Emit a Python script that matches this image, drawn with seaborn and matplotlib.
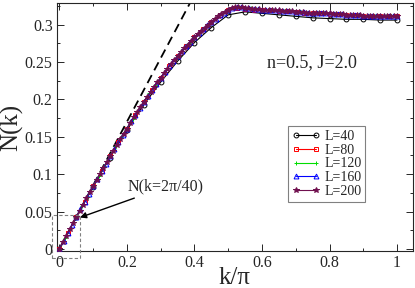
import numpy as np
import pandas as pd
import matplotlib
matplotlib.use("Agg")
import matplotlib.pyplot as plt
import seaborn as sns
from matplotlib.patches import Rectangle
from matplotlib.ticker import MultipleLocator

# ============================ data ============================
sizes = [40, 80, 120, 160, 200]

n_L40 = [0.000, 0.042, 0.083, 0.122, 0.159, 0.193, 0.223, 0.251, 0.276, 0.296,
         0.313, 0.317, 0.315, 0.313, 0.311, 0.309, 0.308, 0.307, 0.307, 0.306,
         0.306]

n_L80 = [0.000, 0.021, 0.043, 0.063, 0.084, 0.104, 0.124, 0.143, 0.161, 0.179,
         0.197, 0.213, 0.229, 0.244, 0.258, 0.271, 0.283, 0.294, 0.304, 0.313,
         0.320, 0.322, 0.321, 0.320, 0.319, 0.319, 0.318, 0.318, 0.317, 0.316,
         0.316, 0.315, 0.314, 0.314, 0.313, 0.313, 0.312, 0.312, 0.311, 0.311,
         0.311]

n_L120 = [0.000, 0.014, 0.028, 0.043, 0.057, 0.070, 0.084, 0.097, 0.111, 0.124,
          0.137, 0.149, 0.161, 0.174, 0.185, 0.197, 0.208, 0.219, 0.229, 0.239,
          0.249, 0.258, 0.267, 0.275, 0.283, 0.290, 0.297, 0.304, 0.310, 0.315,
          0.320, 0.322, 0.323, 0.322, 0.322, 0.321, 0.320, 0.320, 0.319, 0.319,
          0.318, 0.318, 0.317, 0.317, 0.316, 0.316, 0.316, 0.315, 0.315, 0.314,
          0.314, 0.313, 0.313, 0.313, 0.312, 0.312, 0.312, 0.312, 0.311, 0.311,
          0.311]

n_L160 = [0.000, 0.011, 0.021, 0.032, 0.043, 0.053, 0.063, 0.074, 0.084, 0.094,
          0.104, 0.114, 0.124, 0.133, 0.143, 0.152, 0.161, 0.171, 0.179, 0.188,
          0.197, 0.205, 0.213, 0.221, 0.229, 0.237, 0.244, 0.251, 0.258, 0.265,
          0.271, 0.277, 0.283, 0.289, 0.294, 0.299, 0.304, 0.308, 0.313, 0.316,
          0.320, 0.322, 0.323, 0.323, 0.322, 0.322, 0.321, 0.321, 0.320, 0.320,
          0.319, 0.319, 0.319, 0.318, 0.318, 0.318, 0.317, 0.317, 0.317, 0.316,
          0.316, 0.316, 0.315, 0.315, 0.315, 0.314, 0.314, 0.314, 0.313, 0.313,
          0.313, 0.313, 0.312, 0.312, 0.312, 0.312, 0.312, 0.311, 0.311, 0.311,
          0.311]

n_L200 = [0.000, 0.009, 0.017, 0.026, 0.034, 0.043, 0.051, 0.059, 0.068, 0.076,
          0.084, 0.092, 0.100, 0.108, 0.116, 0.124, 0.131, 0.139, 0.147, 0.154,
          0.161, 0.169, 0.176, 0.183, 0.190, 0.197, 0.203, 0.210, 0.216, 0.223,
          0.229, 0.235, 0.241, 0.247, 0.252, 0.258, 0.263, 0.268, 0.273, 0.278,
          0.283, 0.288, 0.292, 0.296, 0.300, 0.304, 0.307, 0.311, 0.314, 0.317,
          0.320, 0.322, 0.323, 0.323, 0.323, 0.322, 0.322, 0.321, 0.321, 0.321,
          0.320, 0.320, 0.320, 0.319, 0.319, 0.319, 0.318, 0.318, 0.318, 0.318,
          0.317, 0.317, 0.317, 0.316, 0.316, 0.316, 0.316, 0.315, 0.315, 0.315,
          0.315, 0.314, 0.314, 0.314, 0.314, 0.313, 0.313, 0.313, 0.313, 0.313,
          0.312, 0.312, 0.312, 0.312, 0.312, 0.312, 0.311, 0.311, 0.311, 0.311,
          0.311]

series = [n_L40, n_L80, n_L120, n_L160, n_L200]
colors = ['black', 'red', '#00dd00', 'blue', '#70104f']
markers = ['o', 's', '+', '^', '*']

# dashed guide line (small-k slope)
guide_k = [0.0, 0.40]
guide_n = [0.0, 0.340]

# ============================ plot ============================
sns.set_style("ticks")
plt.rcParams['font.family'] = ['Liberation Serif', 'DejaVu Serif']

fig = plt.figure(figsize=(4.15, 2.88), dpi=100)
ax = fig.add_axes([0.137, 0.128, 0.858, 0.862])

for L, vals, c, m in zip(sizes, series, colors, markers):
    # k = 2*pi*m/L  ->  k/pi = 2m/L
    df = pd.DataFrame({'k': np.arange(len(vals)) * 2.0 / L, 'N': vals})
    filled = m in ('+', '*')
    sns.lineplot(data=df, x='k', y='N', ax=ax, color=c, linewidth=0.8,
                 marker=m, markersize=3.5 if m != '*' else 4,
                 markerfacecolor=c if filled else 'none',
                 markeredgecolor=c, markeredgewidth=0.7,
                 label=f'L={L}', sort=False, zorder=3)

sns.lineplot(x=guide_k, y=guide_n, ax=ax, color='black', linestyle=(0, (5, 3)),
             linewidth=1.3, zorder=2)

ax.set_xlim(-0.0075, 1.047)
ax.set_ylim(-0.003, 0.329)
ax.xaxis.set_major_locator(MultipleLocator(0.2))
ax.xaxis.set_minor_locator(MultipleLocator(0.1))
ax.yaxis.set_major_locator(MultipleLocator(0.05))
ax.yaxis.set_minor_locator(MultipleLocator(0.025))
ax.xaxis.set_major_formatter(plt.FuncFormatter(lambda v, p: f'{v:g}'))
ax.yaxis.set_major_formatter(plt.FuncFormatter(lambda v, p: f'{v:g}'))
ax.tick_params(which='both', direction='in', top=True, right=True,
               labelsize=11.5, width=0.7, pad=3)
ax.tick_params(which='major', length=5)
ax.tick_params(which='minor', length=2.5)
for s in ax.spines.values():
    s.set_linewidth(0.8)

ax.set_xlabel('k/π', fontsize=18, labelpad=-3)
ax.set_ylabel('N(k)', fontsize=18, labelpad=1)

ax.text(0.749, 0.249, 'n=0.5, J=2.0', fontsize=13, ha='center', va='center')

ax.annotate('N(k=2π/40)', xy=(0.061, 0.042), xytext=(0.203, 0.083),
            fontsize=11.5, ha='left', va='center',
            arrowprops=dict(arrowstyle='-|>', color='black', lw=1.0,
                            mutation_scale=9, shrinkA=0, shrinkB=0))

ax.add_patch(Rectangle((-0.021, -0.012), 0.082, 0.057, fill=False,
                       edgecolor='gray', linestyle=(0, (3, 2)), linewidth=0.8,
                       clip_on=False, zorder=4))

leg = ax.legend(loc='lower left', bbox_to_anchor=(0.649, 0.198),
                fontsize=10, frameon=True, fancybox=False, framealpha=1,
                edgecolor='gray', borderpad=0.3, labelspacing=0.05,
                handlelength=2.0, handletextpad=0.3, borderaxespad=0,
                numpoints=2)
leg.get_frame().set_linewidth(0.8)

fig.savefig('out.png', dpi=100)
